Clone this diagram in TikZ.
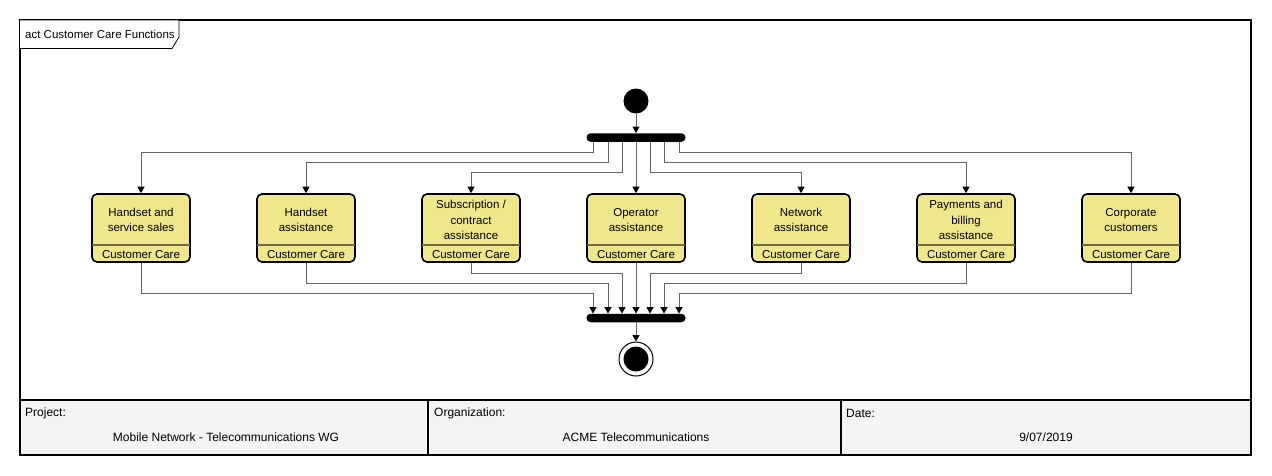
\documentclass[tikz,border=0pt]{standalone}
\usepackage{fontspec}
\setmainfont{Liberation Sans}
\usetikzlibrary{arrows.meta,calc}
\definecolor{khaki}{RGB}{240,230,140}
\definecolor{divcol}{RGB}{115,105,60}
\definecolor{flowcol}{RGB}{100,100,100}
\definecolor{tablebg}{RGB}{244,244,244}
\begin{document}
\begin{tikzpicture}[x=1pt,y=-1pt,
  font=\fontsize{11.5}{15.5}\selectfont,
  actbox/.style={draw=black, line width=1.6pt, rounded corners=5pt, fill=khaki,
    minimum width=98pt, minimum height=68pt, inner sep=0pt},
  acttext/.style={align=center, inner sep=0pt},
  divider/.style={draw=divcol, line width=1.5pt, shorten <=0.8pt, shorten >=0.8pt},
  bar/.style={fill=black, rounded corners=4pt, minimum width=99pt, minimum height=8.5pt, inner sep=0pt},
  flow/.style={draw=flowcol, line width=1pt, -{Triangle[length=6.5pt,width=7pt,color=black]}},
  txt/.style={inner sep=0pt},
  tabtxt/.style={inner sep=0pt, font=\fontsize{12}{14}\selectfont}
]
\useasboundingbox (0,0) rectangle (1272,475);
% frame and table
\fill[white] (20,20) rectangle (1251,455);
\fill[tablebg] (20,400) rectangle (1251,455);
\draw[line width=1.6pt] (20,400) -- (1251,400);
\draw[line width=1.6pt] (428,400) -- (428,455);
\draw[line width=1.6pt] (841,400) -- (841,455);
\draw[line width=1.6pt] (20,20) rectangle (1251,455);
% frame label
\draw[line width=0.8pt, fill=white] (20,20) -- (179,20) -- (179,37) -- (172,48.5) -- (20,48.5);
\node[txt, anchor=west] (title) at (25,34) {act Customer Care Functions};
% table texts
\node[tabtxt, anchor=west] (projl) at (25,413) {Project:};
\node[tabtxt] (proj) at (226,437) {Mobile Network - Telecommunications WG};
\node[tabtxt, anchor=west] (orgl) at (434,413) {Organization:};
\node[tabtxt] (org) at (636,437) {ACME Telecommunications};
\node[tabtxt, anchor=west] (datel) at (846,413) {Date:};
\node[tabtxt] (date) at (1046,437) {9/07/2019};
% activities
\foreach \i/\x/\t in {1/141/{Handset and\\service sales},
                      2/306/{Handset\\assistance},
                      3/471/{Subscription /\\contract\\assistance},
                      4/636/{Operator\\assistance},
                      5/801/{Network\\assistance},
                      6/966/{Payments and\\billing\\assistance},
                      7/1131/{Corporate\\customers}} {
  \node[actbox] (n\i) at (\x,228) {};
  \draw[divider] ([yshift=18pt]n\i.south west) -- ([yshift=18pt]n\i.south east);
  \node[acttext] (t\i) at (\x,220) {\t};
  \node[txt] (l\i) at ([yshift=8.5pt]n\i.south) {Customer Care};
}
% control nodes
\node[circle, fill=black, minimum size=25pt, inner sep=0pt] (start) at (636,101) {};
\node[bar] (fork) at (636,137.5) {};
\node[bar] (join) at (636,318) {};
\node[circle, draw=black, line width=1pt, minimum size=34pt, inner sep=0pt] (end) at (636,359) {};
\node[circle, fill=black, minimum size=25pt, inner sep=0pt] (endin) at (end.center) {};
% fork edges
\draw[flow] (start) -- (fork);
\draw[flow] ([xshift=-43pt]fork.south) -- ++(0,11) -| (n1.north);
\draw[flow] ([xshift=-28pt]fork.south) -- ++(0,21) -| (n2.north);
\draw[flow] ([xshift=-14pt]fork.south) -- ++(0,31) -| (n3.north);
\draw[flow] (fork) -- (n4);
\draw[flow] ([xshift=14pt]fork.south) -- ++(0,31) -| (n5.north);
\draw[flow] ([xshift=28pt]fork.south) -- ++(0,21) -| (n6.north);
\draw[flow] ([xshift=43pt]fork.south) -- ++(0,11) -| (n7.north);
% join edges
\draw[flow] (n1.south) -- ++(0,31) -| ([xshift=-43pt]join.north);
\draw[flow] (n2.south) -- ++(0,21) -| ([xshift=-28pt]join.north);
\draw[flow] (n3.south) -- ++(0,11) -| ([xshift=-14pt]join.north);
\draw[flow] (n4) -- (join);
\draw[flow] (n5.south) -- ++(0,11) -| ([xshift=14pt]join.north);
\draw[flow] (n6.south) -- ++(0,21) -| ([xshift=28pt]join.north);
\draw[flow] (n7.south) -- ++(0,31) -| ([xshift=43pt]join.north);
\draw[flow] (join) -- (end);
\end{tikzpicture}
\end{document}
